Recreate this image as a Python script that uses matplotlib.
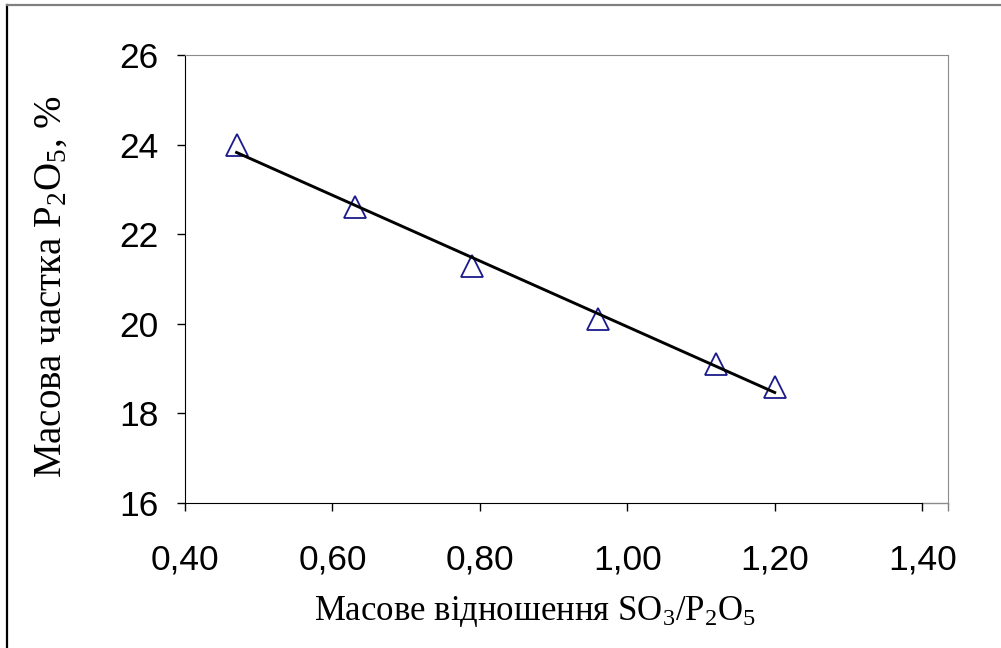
import numpy as np
import matplotlib
matplotlib.use("Agg")
from matplotlib import pyplot as plt
from matplotlib.lines import Line2D

plt.rcParams["mathtext.fontset"] = "custom"
plt.rcParams["mathtext.rm"] = "Liberation Serif"
plt.rcParams["mathtext.default"] = "rm"

# data
ratio_so3_p2o5 = [0.47, 0.63, 0.79, 0.96, 1.12, 1.20]
p2o5_share = [24.0, 22.6, 21.3, 20.1, 19.1, 18.6]

x_ticks = [0.40, 0.60, 0.80, 1.00, 1.20, 1.40]
y_ticks = [16, 18, 20, 22, 24, 26]
x_max = 1.435

fig = plt.figure(figsize=(10.01, 6.48), dpi=100)
ax = fig.add_axes([0.1848, 0.2238, 0.947 - 0.1848, 0.9151 - 0.2238])

# linear trend line over the data range
k, b = np.polyfit(ratio_so3_p2o5, p2o5_share, 1)
xs = np.array([min(ratio_so3_p2o5), max(ratio_so3_p2o5)])
ax.plot(xs, k * xs + b, color="black", lw=2.1, zorder=3)
ax.plot(ratio_so3_p2o5, p2o5_share, ls="none", marker="^", ms=16,
        mfc="none", mec="#1a1a8c", mew=1.3, zorder=2)

ax.set_xlim(x_ticks[0], x_max)
ax.set_ylim(y_ticks[0], y_ticks[-1])
ax.set_xticks(x_ticks)
ax.set_yticks(y_ticks)
ax.set_xticklabels([f"{v:.2f}".replace(".", ",") for v in x_ticks])
ax.set_yticklabels([str(v) for v in y_ticks])
ax.set_xticks([x_max], minor=True)

for lab in ax.get_xticklabels() + ax.get_yticklabels():
    lab.set_family("Liberation Sans")
    lab.set_fontsize(25.5)

ax.tick_params(axis="x", direction="out", length=6, width=1, pad=23)
ax.tick_params(axis="y", direction="out", length=6, width=1, pad=13)
ax.tick_params(axis="x", which="minor", length=6, width=1, color="#808080")

ax.spines["left"].set_color("black")
ax.spines["bottom"].set_color("black")
ax.spines["bottom"].set_bounds(x_ticks[0], x_ticks[-1])
ax.spines["top"].set_color("#8c8c8c")
ax.spines["right"].set_color("#8c8c8c")
ax.plot([x_ticks[-1], x_max], [y_ticks[0], y_ticks[0]], color="#8c8c8c",
        lw=1, clip_on=False, zorder=1)

ax.set_xlabel(r"Масове відношення SO$_3$/P$_2$O$_5$", family="Liberation Serif",
              fontsize=25)
ax.xaxis.set_label_coords(0.459, -0.204)
ax.set_ylabel(r"Масова частка P$_2$O$_5$, %", family="Liberation Serif",
              fontsize=28, va="center")
ax.yaxis.set_label_coords(-0.1756, 0.482)

# outer frame of the chart object
fig.add_artist(Line2D([7 / 1001, 7 / 1001], [0, 1 - 5 / 648],
                      transform=fig.transFigure, color="black", lw=1.6))
fig.add_artist(Line2D([7 / 1001, 1], [1 - 5 / 648, 1 - 5 / 648],
                      transform=fig.transFigure, color="#808080", lw=1.6))

fig.savefig("out.png", dpi=100)
